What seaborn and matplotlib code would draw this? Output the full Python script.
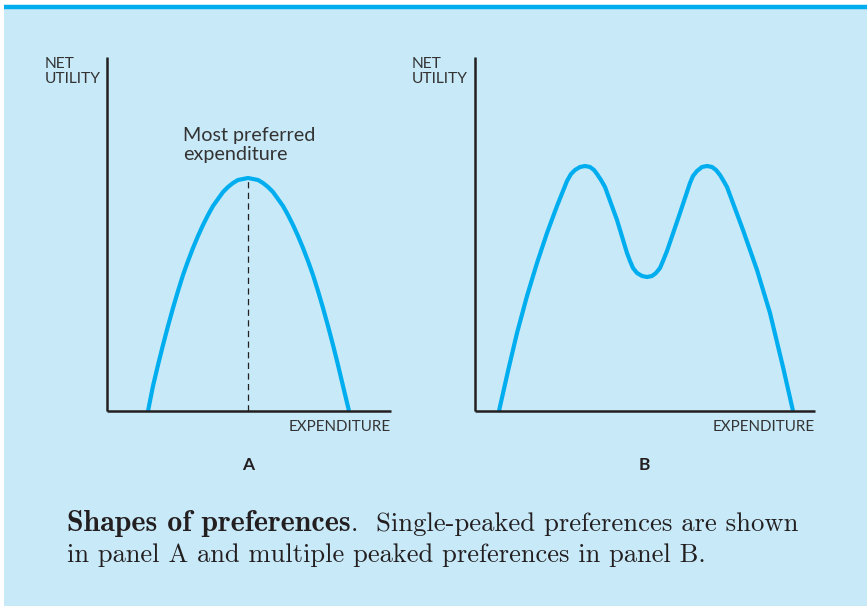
import matplotlib
matplotlib.use("Agg")
import matplotlib.pyplot as plt
import seaborn as sns
import pandas as pd
from matplotlib.patches import Rectangle
from matplotlib.lines import Line2D

# ---- data (x = expenditure, y = net utility, arbitrary units) ----
a_x = [41, 46, 51, 56, 61, 66, 71, 76, 81, 86, 91, 96, 101, 106, 111, 116, 121, 126, 131, 136,
       141, 146, 151, 156, 161, 166, 171, 176, 181, 186, 191, 196, 201, 206, 211, 216, 221, 226,
       231, 236, 242]
a_y = [0, 25, 46, 66, 85, 103, 120, 136, 150, 163, 175, 186, 196, 205, 212, 219, 224, 228, 231, 232,
       233, 232, 231, 228, 224, 219, 212, 205, 196, 186, 175, 163, 150, 136, 120, 103, 85, 66,
       46, 25, 0]
peak_a_x = 141
peak_a_y = 233

b_x = [24, 33, 42, 52, 62, 72, 82, 88, 92, 96, 100, 105, 110, 115, 119, 122, 126, 130, 142,
       152, 155, 158, 162, 167, 172, 177, 181, 185, 188, 192, 205, 215, 218, 222, 227, 232,
       237, 241, 245, 248, 252, 268, 282, 295, 308, 318]
b_y = [0, 40, 78, 115, 148, 178, 205, 220, 230, 237, 241, 244, 245, 244, 241, 237, 231, 224, 191,
       158, 150, 143, 138, 135, 134, 135, 138, 143, 150, 160, 198, 228, 235, 240, 244, 245,
       244, 241, 236, 231, 224, 181, 141, 98, 44, 0]

y_label = "NET\nUTILITY"
x_label = "EXPENDITURE"
panel_labels = ["A", "B"]
annot = "Most preferred\nexpenditure"
cap_bold = "Shapes of preferences"
cap_rest1 = ".  Single-peaked preferences are shown"
cap_line2 = "in panel A and multiple peaked preferences in panel B."

sns.set_style("white")
plt.rcParams["font.family"] = ["Lato", "DejaVu Sans"]

W, H = 867, 606
BG = "#c8e9f8"
CURVE = "#00aeef"
AXC = "#231f20"
TXT = "#333333"

fig = plt.figure(figsize=(W / 100, H / 100), dpi=100, facecolor="white")

def fx(px):
    return px / W

def fy(py):
    return 1 - py / H

# panel background and top rule
fig.patches.append(Rectangle((fx(4), 0), 1 - fx(4), fy(5), transform=fig.transFigure,
                             facecolor=BG, edgecolor="none", zorder=-5))
fig.lines.append(Line2D([fx(4), 1], [fy(7), fy(7)], transform=fig.transFigure,
                        color=CURVE, lw=3.2, solid_capstyle="butt", zorder=-4))

def make_axes(left, right, top, bottom):
    ax = fig.add_axes([fx(left), fy(bottom), fx(right) - fx(left), fy(top) - fy(bottom)])
    ax.set_facecolor("none")
    ax.set_zorder(2)
    for s in ["top", "right"]:
        ax.spines[s].set_visible(False)
    for s in ["left", "bottom"]:
        ax.spines[s].set_color(AXC)
        ax.spines[s].set_linewidth(1.8)
        ax.spines[s].set_capstyle("butt")
    return ax

axA = make_axes(107, 391, 57, 411)
axB = make_axes(475, 815, 57, 411)

dfA = pd.DataFrame({"x": a_x, "y": a_y})
dfB = pd.DataFrame({"x": b_x, "y": b_y})
sns.lineplot(data=dfA, x="x", y="y", ax=axA, color=CURVE, lw=3.0, sort=False,
             estimator=None, solid_capstyle="butt", solid_joinstyle="round")
sns.lineplot(data=dfB, x="x", y="y", ax=axB, color=CURVE, lw=3.0, sort=False,
             estimator=None, solid_capstyle="butt", solid_joinstyle="round")
for ax, w in ((axA, 284), (axB, 340)):
    ax.set_xlabel("")
    ax.set_ylabel("")
    ax.set_xticks([])
    ax.set_yticks([])
    ax.set_xlim(0, w)
    ax.set_ylim(0, 354)

axA.plot([peak_a_x, peak_a_x], [0, peak_a_y], color=AXC, lw=0.9, dashes=(5, 3.5), zorder=1)

# texts
for xpix in (45, 412):
    fig.text(fx(xpix), fy(57), y_label, ha="left", va="top", fontsize=11.2,
             color=TXT, linespacing=1.1)
for xr in (391, 815):
    fig.text(fx(xr), fy(427), x_label, ha="right", va="center", fontsize=10.9, color=TXT)
for xc, lab in zip((248, 644), panel_labels):
    fig.text(fx(xc), fy(465), lab, ha="center", va="center", fontsize=12.5,
             fontweight="bold", color=AXC)
fig.text(fx(183), fy(127), annot, ha="left", va="top", fontsize=14.2, color=TXT,
         linespacing=1.15)

# caption
t1 = fig.text(fx(67), fy(531), cap_bold, ha="left", va="baseline", fontsize=21.6,
              family="cmb10", color=AXC)
fig.canvas.draw()
bb = t1.get_window_extent(renderer=fig.canvas.get_renderer())
fig.text(bb.x1 / W, fy(531), cap_rest1, ha="left", va="baseline", fontsize=19.2,
         family="cmr10", color=AXC)
fig.text(fx(67), fy(562), cap_line2, ha="left", va="baseline", fontsize=19.1,
         family="cmr10", color=AXC)

fig.savefig("out.png", dpi=100, facecolor="white")
